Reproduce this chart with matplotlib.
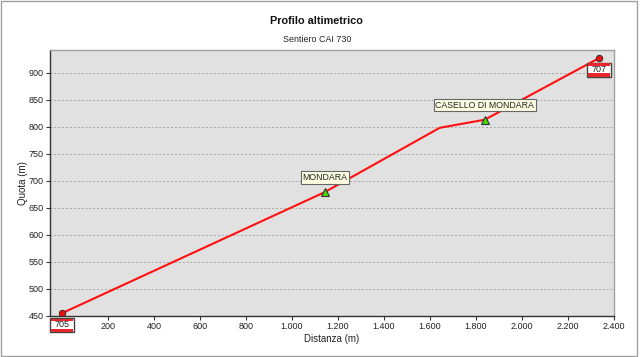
import matplotlib
matplotlib.use("Agg")
import matplotlib.pyplot as plt
from matplotlib.patches import Rectangle
from matplotlib.text import Text
from matplotlib.offsetbox import DrawingArea, AnnotationBbox
from matplotlib.ticker import FuncFormatter, MultipleLocator

plt.rcParams['font.family'] = ['Liberation Sans', 'DejaVu Sans']

# profile data
distanza = [0, 1143, 1643, 1839, 2336]
quota = [455, 679, 798, 813, 927]

# waypoints along the trail
wp_names = ['MONDARA', 'CASELLO DI MONDARA']
wp_dist = [1143, 1839]
wp_quota = [679, 813]

# trail signs at start and end
sign_labels = ['705', '707']
sign_dist = [0, 2336]
sign_quota = [455, 927]

x_ticks = list(range(200, 2401, 200))


def thousands(v, pos):
    return f"{int(v):,}".replace(",", ".")


def trail_sign(label):
    # red-white-red marker box, sizes in points
    w, h = 16.8, 10.4
    da = DrawingArea(w, h, 0, 0)
    da.add_artist(Rectangle((0, 0), w, h, facecolor='white', edgecolor='#444444', linewidth=1.0))
    da.add_artist(Rectangle((0.4, 0.4), w - 0.8, 2.4, facecolor='#e8262b', edgecolor='none'))
    da.add_artist(Rectangle((0.4, h - 2.2), w - 0.8, 1.8, facecolor='#e8262b', edgecolor='none'))
    da.add_artist(Text(w / 2, h / 2 + 0.3, label, ha='center', va='center',
                       fontsize=6.5, color='#222222', family='Liberation Sans'))
    return da


fig = plt.figure(figsize=(6.4, 3.57), dpi=100)
ax = fig.add_axes([0.078, 0.115, 0.881, 0.745])
ax.set_facecolor('#e1e1e1')

ax.plot(distanza, quota, color='#ff1010', linewidth=1.5, zorder=3)
ax.plot(wp_dist, wp_quota, linestyle='none', marker='^', markersize=6,
        markerfacecolor='#44dd00', markeredgecolor='#333333', markeredgewidth=0.8, zorder=4)
ax.plot(sign_dist, sign_quota, linestyle='none', marker='o', markersize=4.5,
        markerfacecolor='#ee1111', markeredgecolor='#552222', markeredgewidth=0.8, zorder=4)

for name, x, y in zip(wp_names, wp_dist, wp_quota):
    ax.annotate(name, (x, y), xytext=(0, 10.5), textcoords='offset points',
                ha='center', va='center', fontsize=6.3, color='#222222',
                bbox=dict(boxstyle='square,pad=0.18', facecolor='#ffffe4',
                          edgecolor='#666666', linewidth=0.8), zorder=5)

for label, x, y in zip(sign_labels, sign_dist, sign_quota):
    ab = AnnotationBbox(trail_sign(label), (x, y), xybox=(0, -8.6),
                        xycoords='data', boxcoords='offset points', pad=0,
                        frameon=False, annotation_clip=False)
    ab.set_zorder(6)
    ax.add_artist(ab)

ax.set_xlim(-52, 2400)
ax.set_ylim(450, 942)
ax.set_xticks(x_ticks)
ax.yaxis.set_major_locator(MultipleLocator(50))
ax.xaxis.set_major_formatter(FuncFormatter(thousands))
ax.tick_params(labelsize=6.5, length=3, width=0.8, pad=1.5,
               colors='#333333', labelcolor='#222222')
ax.grid(axis='y', color='#a8a8a8', linestyle=(0, (2, 2)), linewidth=0.7)
ax.set_axisbelow(True)

for side in ['left', 'bottom']:
    ax.spines[side].set_color('#333333')
    ax.spines[side].set_linewidth(1.0)
for side in ['top', 'right']:
    ax.spines[side].set_color('#a0a0a0')
    ax.spines[side].set_linewidth(1.0)

ax.set_xlabel('Distanza (m)', fontsize=7, color='#222222', labelpad=2)
ax.set_ylabel('Quota (m)', fontsize=7, color='#222222', labelpad=0.5)

fig.text(0.495, 0.94, 'Profilo altimetrico', ha='center', va='center',
         fontsize=7.8, fontweight='bold', color='#111111')
fig.text(0.495, 0.888, 'Sentiero CAI 730', ha='center', va='center',
         fontsize=6.4, color='#222222')

fig.patches.append(Rectangle((0.002, 0.003), 0.994, 0.994, transform=fig.transFigure,
                             fill=False, edgecolor='#a0a0a0', linewidth=1.0))

fig.savefig('out.png', dpi=100)
